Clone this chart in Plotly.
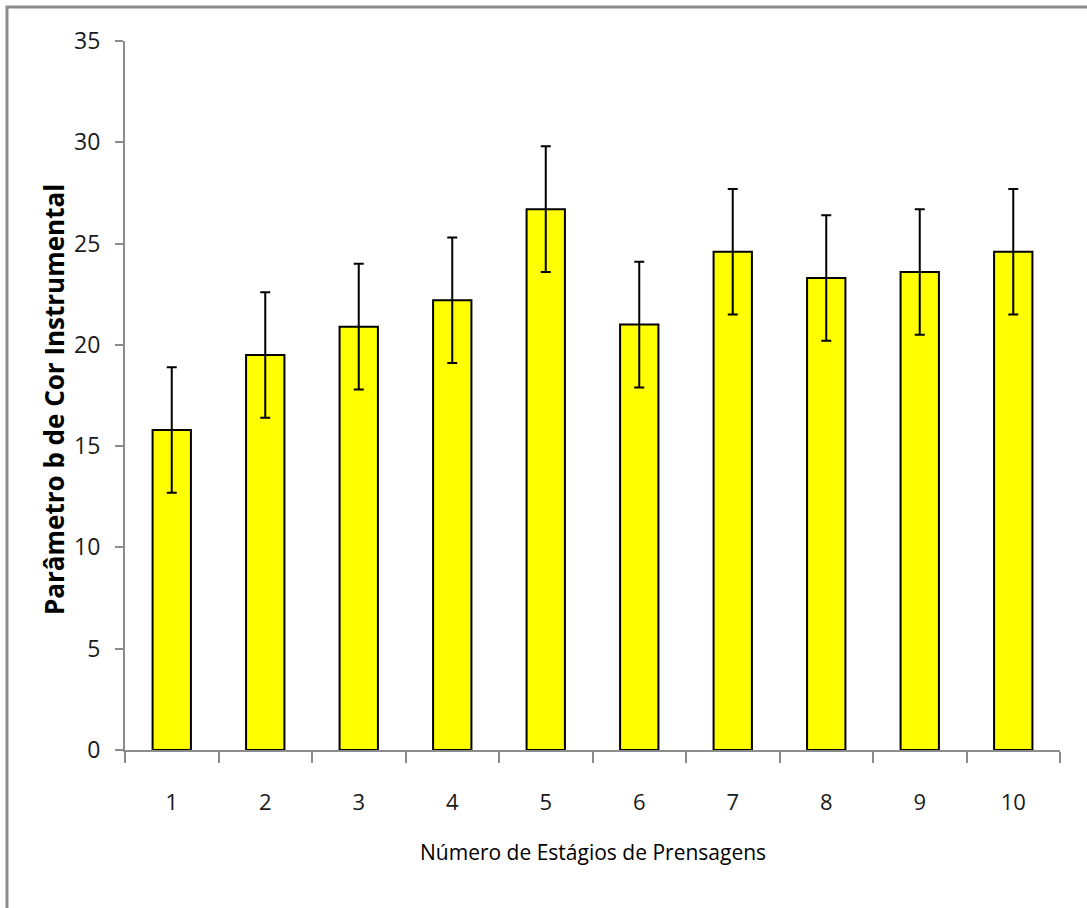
import plotly.graph_objects as go

categories = ["1", "2", "3", "4", "5", "6", "7", "8", "9", "10"]
values = [15.8, 19.5, 20.9, 22.2, 26.7, 21.0, 24.6, 23.3, 23.6, 24.6]
errors = [3.1, 3.1, 3.1, 3.1, 3.1, 3.1, 3.1, 3.1, 3.1, 3.1]
y_ticks = [0, 5, 10, 15, 20, 25, 30, 35]

W, H = 1087, 908
L, R, T, B = 125, 27, 41, 158
pw, ph = W - L - R, H - T - B

font_main = "Open Sans, sans-serif"

fig = go.Figure()
fig.add_trace(go.Bar(
    x=categories, y=values,
    width=0.41,
    marker=dict(color="#FFFF00", line=dict(color="#000000", width=2)),
    error_y=dict(type="data", array=errors, visible=True,
                 color="#000000", thickness=2, width=5),
))

def px_x(p):
    return (p - L) / pw

def px_y(p):
    return (H - B - p) / ph

fig.update_layout(
    width=W, height=H,
    margin=dict(l=L, r=R, t=T, b=B),
    paper_bgcolor="white", plot_bgcolor="white",
    showlegend=False,
    bargap=0.59,
    font=dict(family=font_main, color="#000000"),
    xaxis=dict(
        type="category",
        showline=True, linecolor="#8c8c8c", linewidth=2,
        ticks="outside", tickson="boundaries", ticklen=11, tickcolor="#8c8c8c", tickwidth=2,
        tickfont=dict(size=22, family=font_main, color="#1a1a1a"),
        ticklabelstandoff=32,
        showgrid=False, zeroline=False,
    ),
    yaxis=dict(
        range=[0, 35], tickvals=y_ticks,
        showline=True, linecolor="#8c8c8c", linewidth=2,
        ticks="outside", ticklen=8, tickcolor="#8c8c8c", tickwidth=2,
        tickfont=dict(size=23, family=font_main, color="#1a1a1a"),
        ticklabelstandoff=10,
        showgrid=False, zeroline=False,
    ),
    annotations=[
        dict(
            text="<b>Parâmetro b de Cor Instrumental</b>",
            xref="paper", yref="paper",
            x=px_x(54), y=px_y(400), textangle=-90,
            showarrow=False, xanchor="center", yanchor="middle",
            font=dict(size=26, family=font_main),
        ),
        dict(
            text="Número de Estágios de Prensagens",
            xref="paper", yref="paper",
            x=0.5, y=px_y(852),
            showarrow=False, xanchor="center", yanchor="middle",
            font=dict(size=21, family=font_main),
        ),
    ],
    shapes=[dict(
        type="rect", xref="paper", yref="paper",
        x0=px_x(7), x1=px_x(1100), y0=px_y(920), y1=px_y(7),
        line=dict(color="#8c8c8c", width=3), layer="below",
    )],
)

fig.write_html("out.html", config={"displayModeBar": False},
               post_script="document.body.style.margin='0px';")
